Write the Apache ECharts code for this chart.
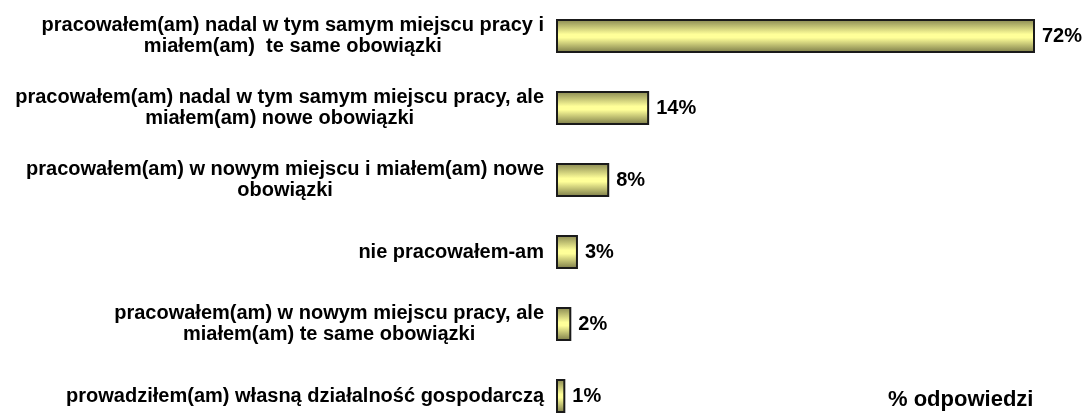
<!DOCTYPE html>
<html lang="pl">
<head>
  <meta charset="UTF-8">
  <title>% odpowiedzi</title>
  <style>
    * { margin: 0; padding: 0; }
    body { overflow: hidden; }
    /* wykres wyższy od okna: ostatni słupek jest przycięty jak w oryginale */
    #main { width: 1086px; height: 432px; background: #fff; }
  </style>
</head>
<body>
  <div id="main"></div>
  <script src="https://cdn.jsdelivr.net/npm/echarts@6/dist/echarts.min.js"></script>
  <script>
    // kategorie odpowiedzi (od góry)
    const categories = [
      'pracowałem(am) nadal w tym samym miejscu pracy i\nmiałem(am)  te same obowiązki',
      'pracowałem(am) nadal w tym samym miejscu pracy, ale\nmiałem(am) nowe obowiązki',
      'pracowałem(am) w nowym miejscu i miałem(am) nowe\nobowiązki',
      'nie pracowałem-am',
      'pracowałem(am) w nowym miejscu pracy, ale\nmiałem(am) te same obowiązki',
      'prowadziłem(am) własną działalność gospodarczą'
    ]
    // % odpowiedzi
    const values = [72, 14, 8, 3.3, 2.3, 1.4]
    const axisTitle = '% odpowiedzi'

    const font = 'Liberation Sans, Arial, sans-serif'
    const chart = echarts.init(document.getElementById('main'))

    chart.setOption({
      animation: false,
      title: {
        text: axisTitle,
        left: 883,
        top: 384,
        textStyle: { fontFamily: font, fontWeight: 'bold', fontSize: 22, color: '#000' }
      },
      grid: { left: 556, top: 0, width: 479, height: 432 },
      xAxis: {
        type: 'value',
        min: 0,
        max: 72,
        show: false
      },
      yAxis: {
        type: 'category',
        data: categories,
        inverse: true,
        axisLine: { show: false },
        axisTick: { show: false },
        axisLabel: {
          margin: 12,
          align: 'right',
          // każda linia wyśrodkowana w bloku tekstu
          formatter: v => v.split('\n').map(s => '{c|' + s + '}').join('\n'),
          rich: {
            c: { align: 'center', fontFamily: font, fontWeight: 'bold', fontSize: 20, lineHeight: 21, color: '#000' }
          }
        }
      },
      series: [{
        type: 'bar',
        data: values,
        barWidth: 34,
        itemStyle: {
          borderColor: '#1a1a1a',
          borderWidth: 2,
          color: {
            type: 'linear', x: 0, y: 0, x2: 0, y2: 1,
            colorStops: [
              { offset: 0, color: '#85854f' },
              { offset: 0.45, color: '#ffff99' },
              { offset: 0.55, color: '#ffff99' },
              { offset: 1, color: '#787846' }
            ]
          }
        },
        label: {
          show: true,
          position: 'right',
          distance: 7,
          formatter: p => Math.round(p.value) + '%',
          fontFamily: font,
          fontWeight: 'bold',
          fontSize: 20,
          color: '#000'
        }
      }]
    })
  </script>
</body>
</html>
